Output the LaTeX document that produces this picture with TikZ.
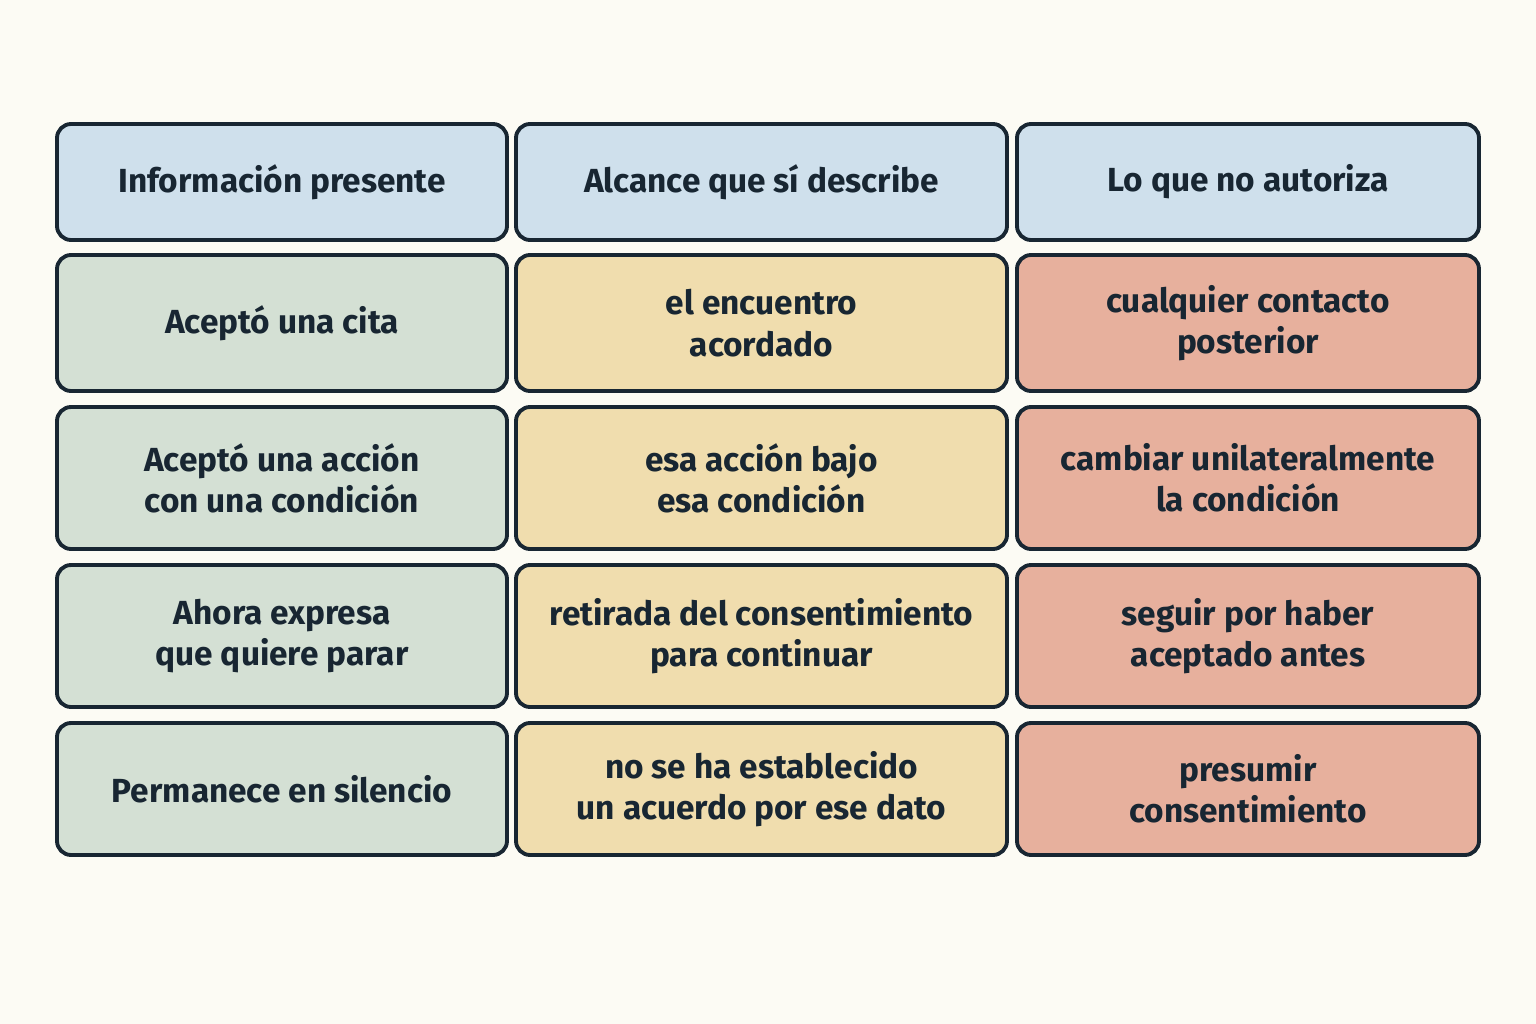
\documentclass[tikz,border=0pt]{standalone}
\usepackage{fontspec}
\setmainfont{Fira Sans}
\definecolor{bgc}{RGB}{252,251,244}
\definecolor{edge}{RGB}{24,38,50}
\definecolor{headc}{RGB}{207,224,236}
\definecolor{infoc}{RGB}{212,224,212}
\definecolor{scopec}{RGB}{240,221,174}
\definecolor{notc}{RGB}{231,176,157}
\tikzset{
  cell/.style={draw=edge,line width=2.2pt,rounded corners=8pt,align=center,
    font=\fontsize{19}{23.5}\selectfont\bfseries,text=edge,inner sep=0pt},
  head/.style={cell,fill=headc},
  info/.style={cell,fill=infoc},
  scope/.style={cell,fill=scopec},
  nope/.style={cell,fill=notc}
}
\begin{document}
\begin{tikzpicture}[x=0.02cm,y=-0.02cm]
    \fill[bgc] (0,0) rectangle (1536,1024);
    \useasboundingbox (0,0) rectangle (1536,1024);

    % header row
    \node[head,minimum width=450*0.02cm,minimum height=116*0.02cm] (h1) at (282,182) {Información presente};
    \node[head,minimum width=491*0.02cm,minimum height=116*0.02cm] (h2) at (761.5,182) {Alcance que sí describe};
    \node[head,minimum width=462*0.02cm,minimum height=116*0.02cm] (h3) at (1248,182) {Lo que no autoriza};

    % first row
    \node[info,minimum width=450*0.02cm,minimum height=136*0.02cm] (a1) at (282,323) {Aceptó una cita};
    \node[scope,minimum width=491*0.02cm,minimum height=136*0.02cm] (a2) at (761.5,323) {el encuentro\\acordado};
    \node[nope,minimum width=462*0.02cm,minimum height=136*0.02cm] (a3) at (1248,323) {cualquier contacto\\posterior};

    % second row
    \node[info,minimum width=450*0.02cm,minimum height=142*0.02cm] (b1) at (282,478) {Aceptó una acción\\con una condición};
    \node[scope,minimum width=491*0.02cm,minimum height=142*0.02cm] (b2) at (761.5,478) {esa acción bajo\\esa condición};
    \node[nope,minimum width=462*0.02cm,minimum height=142*0.02cm] (b3) at (1248,478) {cambiar unilateralmente\\la condición};

    % third row
    \node[info,minimum width=450*0.02cm,minimum height=142*0.02cm] (c1) at (282,636) {Ahora expresa\\que quiere parar};
    \node[scope,minimum width=491*0.02cm,minimum height=142*0.02cm] (c2) at (761.5,636) {retirada del consentimiento\\para continuar};
    \node[nope,minimum width=462*0.02cm,minimum height=142*0.02cm] (c3) at (1248,636) {seguir por haber\\aceptado antes};

    % fourth row
    \node[info,minimum width=450*0.02cm,minimum height=132*0.02cm] (d1) at (282,789) {Permanece en silencio};
    \node[scope,minimum width=491*0.02cm,minimum height=132*0.02cm] (d2) at (761.5,789) {no se ha establecido\\un acuerdo por ese dato};
    \node[nope,minimum width=462*0.02cm,minimum height=132*0.02cm] (d3) at (1248,789) {presumir\\consentimiento};
\end{tikzpicture}
\end{document}
